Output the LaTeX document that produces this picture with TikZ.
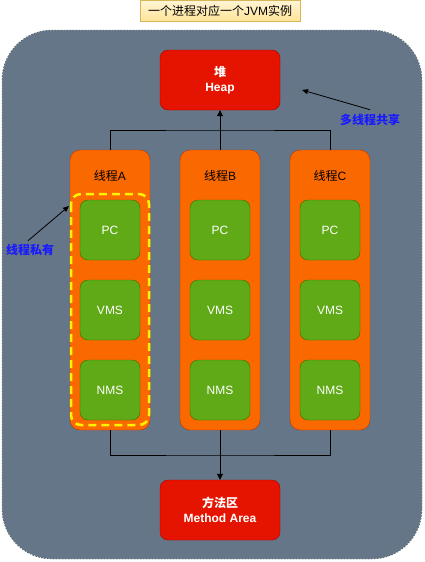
\documentclass[tikz,border=0pt]{standalone}
\usepackage{fontspec}
\setmainfont{Liberation Sans}
\newfontfamily\cjk{Noto Sans CJK SC}
\usetikzlibrary{arrows.meta}
\definecolor{slate}{HTML}{647687}
\definecolor{heapred}{HTML}{E51400}
\definecolor{heapline}{HTML}{B20000}
\definecolor{thread}{HTML}{FA6800}
\definecolor{threadline}{HTML}{C73500}
\definecolor{regfill}{HTML}{60A917}
\definecolor{regline}{HTML}{2D7600}
\definecolor{notetext}{HTML}{1A1AFF}
\definecolor{titlefill}{HTML}{FFE599}
\definecolor{titleline}{HTML}{D6B656}
\tikzset{
  area/.style={draw=heapline,fill=heapred,rounded corners=8pt,minimum width=120pt,minimum height=60pt,
    text=white,font=\fontsize{12}{15}\selectfont\bfseries,align=center},
  threadbox/.style={draw=threadline,fill=thread,rounded corners=10pt,minimum width=80pt,minimum height=280pt},
  reg/.style={draw=regline,fill=regfill,rounded corners=8pt,minimum width=60pt,minimum height=60pt,
    text=white,font=\fontsize{12}{15}\selectfont},
  note/.style={text=notetext,font=\fontsize{12}{15}\selectfont\cjk\bfseries},
  link/.style={draw=black,line width=0.8pt},
}
\begin{document}
\begin{tikzpicture}[x=1pt,y=-1pt]
\useasboundingbox (0,0) rectangle (424,562);
% process background
\draw[fill=slate,draw=white,dash pattern=on 1.5pt off 1.5pt,rounded corners=50pt] (2,30) rectangle (422,559);
\draw[draw=slate!60!black,dash pattern=on 1.5pt off 1.5pt,dash phase=1.5pt,rounded corners=50pt] (2,30) rectangle (422,559);

\node[draw=titleline,top color=titlefill!40,bottom color=titlefill,minimum width=160pt,minimum height=21pt,
  font=\fontsize{12}{15}\selectfont] (title) at (220,10.5) {{\cjk 一个进程对应一个}JVM{\cjk 实例}};

\node[area] (heap) at (220,80) {{\cjk 堆}\\Heap};
\node[area] (method) at (220,510) {{\cjk 方法区}\\Method Area};

\begin{scope}[every node/.style={threadbox}]
	\node (tA) at (110,290) {};
	\node (tB) at (220,290) {};
	\node (tC) at (330,290) {};
\end{scope}

\begin{scope}[every node/.style={font=\fontsize{12}{15}\selectfont}]
	\node (nA) at (110,176) {{\cjk 线程}A};
	\node (nB) at (220,176) {{\cjk 线程}B};
	\node (nC) at (330,176) {{\cjk 线程}C};
\end{scope}

\foreach \t/\x in {A/110,B/220,C/330}{
	\node[reg] (pc\t) at (\x,230) {PC};
	\node[reg] (vms\t) at (\x,310) {VMS};
	\node[reg] (nms\t) at (\x,390) {NMS};
}

% thread private area
\draw[yellow,line width=2.5pt,dash pattern=on 8pt off 5pt,rounded corners=10pt] (71,194) rectangle (149,425);

\coordinate (up) at (220,130);
\coordinate (down) at (220,455);
\draw[link] (tA.north) |- (up) -| (tC.north);
\draw[link,-{Triangle[length=6pt,width=6pt]}] (tB.north) -- (heap.south);
\draw[link] (tA.south) |- (down) -| (tC.south);
\draw[link,-{Triangle[length=6pt,width=6pt]}] (tB.south) -- (method.north);

\node[note] (shared) at (370,120) {多线程共享};
\coordinate (sharedtip) at (302,90);
\draw[link,-{Triangle[length=6pt,width=5pt]}] (shared.north) ++(0,-1) -- (sharedtip);

\node[note] (private) at (30,250) {线程私有};
\coordinate (privatetip) at (69,206);
\draw[link,-{Triangle[length=6pt,width=5pt]}] (private.north) ++(-2,0) -- (privatetip);
\end{tikzpicture}
\end{document}
